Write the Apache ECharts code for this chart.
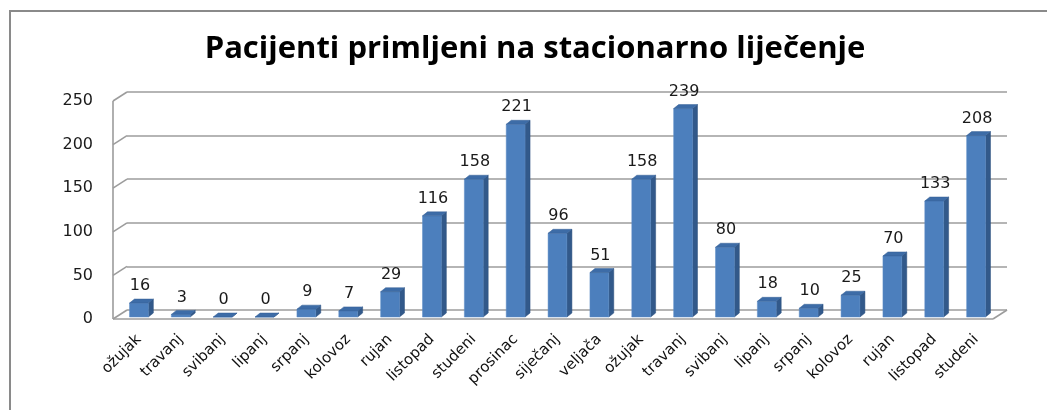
<!DOCTYPE html>
<html>
<head>
<meta charset="utf-8">
<script src="https://cdn.jsdelivr.net/npm/echarts@6/dist/echarts.min.js"></script>
<style>
html,body{margin:0;padding:0;background:#fff;}
#c{width:1047px;height:410px;}
</style>
</head>
<body>
<div id="c"></div>
<script>
var categories = ['ožujak','travanj','svibanj','lipanj','srpanj','kolovoz','rujan','listopad','studeni','prosinac','siječanj','veljača','ožujak','travanj','svibanj','lipanj','srpanj','kolovoz','rujan','listopad','studeni'];
var values = [16,3,0,0,9,7,29,116,158,221,96,51,158,239,80,18,10,25,70,133,208];
var yTicks = [0,50,100,150,200,250];
var titleText = 'Pacijenti primljeni na stacionarno liječenje';

var chart = echarts.init(document.getElementById('c'), null, {renderer:'canvas'});

var DEPTH_X = 14, DEPTH_Y = -9;   // wall depth
var BAR_DX = 5, BAR_DY = -4;      // bar depth
var FONT = '"DejaVu Sans", Verdana, sans-serif';

function renderBar(params, api) {
  var i = api.value(0), v = api.value(1);
  var top = api.coord([i, v]);
  var base = api.coord([i, 0]);
  var w = api.size([1, 0])[0] * 0.45;
  var x0 = top[0] - w / 2, x1 = top[0] + w / 2;
  var yT = top[1], yB = base[1];
  return {
    type: 'group',
    children: [
      {type:'polygon', shape:{points:[[x1,yT],[x1+BAR_DX,yT+BAR_DY],[x1+BAR_DX,yB+BAR_DY],[x1,yB]]},
       style:{fill:'#32598a', stroke:'#2b4f7c', lineWidth:0.5}},
      {type:'rect', shape:{x:x0, y:yT, width:w, height:yB-yT},
       style:{fill:'#4c7fbd', stroke:'#5d8dc7', lineWidth:0.5}},
      {type:'polygon', shape:{points:[[x0,yT],[x0+BAR_DX,yT+BAR_DY],[x1+BAR_DX,yT+BAR_DY],[x1,yT]]},
       style:{fill:'#3d6ca7', stroke:'#345f95', lineWidth:0.5}},
      {type:'text', style:{text:String(v), x:top[0]+1, y:yT+BAR_DY-5, textAlign:'center', textVerticalAlign:'bottom',
        font:'16px ' + FONT, fill:'#1a1a1a'}}
    ]
  };
}

function renderWall(params, api) {
  var v = api.value(0);
  var cs = params.coordSys;
  var p = api.coord([0, v]);
  var lx = cs.x;
  var children = [
    {type:'line', shape:{x1:lx, y1:p[1], x2:lx+DEPTH_X, y2:p[1]+DEPTH_Y}, style:{stroke:'#9c9c9c', lineWidth:1.6}}
  ];
  if (params.dataIndex === 0) {
    var rx = cs.x + cs.width;
    var top = api.coord([0, yTicks[yTicks.length-1]]);
    children.push({type:'line', shape:{x1:lx, y1:top[1], x2:lx, y2:p[1]}, style:{stroke:'#9c9c9c', lineWidth:1.6}});
    children.push({type:'line', shape:{x1:lx, y1:p[1], x2:rx, y2:p[1]}, style:{stroke:'#9c9c9c', lineWidth:1.6}});
    children.push({type:'line', shape:{x1:rx, y1:p[1], x2:rx+DEPTH_X, y2:p[1]+DEPTH_Y}, style:{stroke:'#9c9c9c', lineWidth:1.6}});
  }
  return {type:'group', children:children};
}

var option = {
  animation: false,
  backgroundColor: '#ffffff',
  title: {
    text: titleText,
    left: 530, top: 29, textAlign: 'center',
    textStyle: {fontFamily:'"Open Sans", sans-serif', fontWeight:'bold', fontSize:31, color:'#000'}
  },
  graphic: [
    {type:'rect', shape:{x:10, y:11, width:1100, height:500}, style:{fill:'none', stroke:'#8a8a8a', lineWidth:2}, silent:true}
  ],
  grid: [
    {left:127, right:40, top:92, bottom:100},   // back wall
    {left:118, right:50, top:99, bottom:93},    // bars plane
    {left:113, right:54, top:101, bottom:91}    // front plane
  ],
  xAxis: [
    {gridIndex:0, type:'category', data:categories, show:false},
    {gridIndex:1, type:'category', data:categories,
     axisLine:{show:false}, axisTick:{show:false},
     axisLabel:{interval:0, rotate:45, margin:20, fontFamily:'"DejaVu Sans", sans-serif', fontSize:15, color:'#111'}},
    {gridIndex:2, type:'category', data:categories, show:false}
  ],
  yAxis: [
    {gridIndex:0, type:'value', min:0, max:250, interval:50,
     axisLabel:{show:false}, axisLine:{show:false}, axisTick:{show:false},
     splitLine:{show:true, lineStyle:{color:'#9c9c9c', width:1.6}}},
    {gridIndex:1, type:'value', min:0, max:250, interval:50, show:false, splitLine:{show:false}},
    {gridIndex:2, type:'value', min:0, max:250, interval:50,
     axisLine:{show:false}, axisTick:{show:false}, splitLine:{show:false},
     axisLabel:{margin:20, fontFamily:'"DejaVu Sans", sans-serif', fontSize:16, color:'#1a1a1a'}}
  ],
  series: [
    {type:'custom', xAxisIndex:2, yAxisIndex:2, data:yTicks.map(function(t){return [t];}),
     encode:{y:0}, renderItem:renderWall, silent:true, z:1},
    {type:'custom', xAxisIndex:1, yAxisIndex:1, data:values.map(function(v,i){return [i,v];}),
     encode:{x:0, y:1}, renderItem:renderBar, z:5}
  ]
};
chart.setOption(option);
</script>
</body>
</html>
